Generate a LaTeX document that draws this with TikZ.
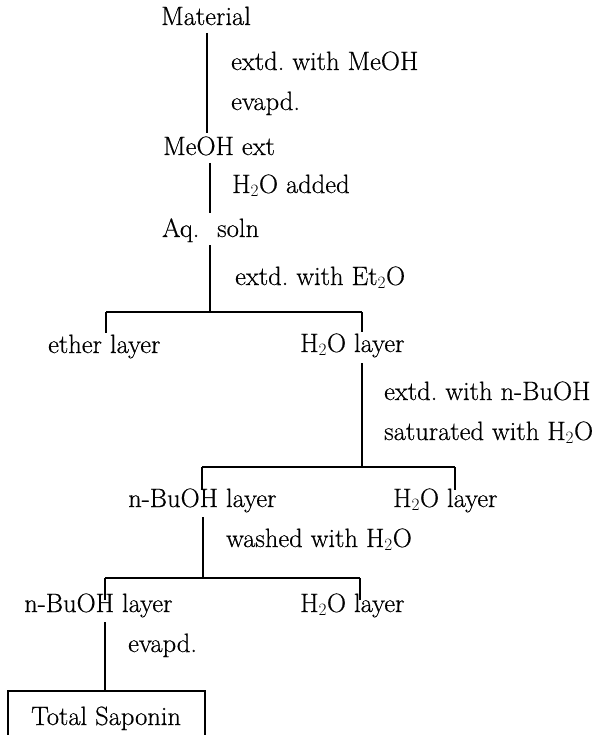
\documentclass[tikz,border=0pt]{standalone}
\usepackage{fontspec}
\newfontfamily\diagfont{Latin Modern Roman}[FakeBold=0.5]
\begin{document}
\begin{tikzpicture}[x=1pt,y=-1pt,
  lbl/.style={anchor=base west,inner sep=0pt,font=\diagfont\fontsize{26.5}{32}\selectfont},
  ln/.style={line width=1.1pt}]
\useasboundingbox (0,0) rectangle (601,735);
% texts
\node[lbl] (mat) at (161,25) {Material};
\node[lbl] (s1a) at (231,70) {extd.\ with MeOH};
\node[lbl] (s1b) at (231,110) {evapd.};
\node[lbl] (meoh) at (163,155) {MeOH ext};
\node[lbl] (s2) at (232,193) {H$_2$O added};
\node[lbl] (aq) at (162,237) {Aq.};
\node[lbl] (soln) at (217,237) {soln};
\node[lbl] (s3) at (235,285) {extd.\ with Et$_2$O};
\node[lbl] (ether) at (48,353) {ether layer};
\node[lbl] (w1) at (300,352) {H$_2$O layer};
\node[lbl] (s4a) at (384,400) {extd.\ with n-BuOH};
\node[lbl] (s4b) at (384,440) {saturated with H$_2$O};
\node[lbl] (bu1) at (128,507) {n-BuOH layer};
\node[lbl] (w2) at (393,507) {H$_2$O layer};
\node[lbl] (s5) at (226,547) {washed with H$_2$O};
\node[lbl] (bu2) at (24,612) {n-BuOH layer};
\node[lbl] (w3) at (300,612) {H$_2$O layer};
\node[lbl] (s6) at (128,652) {evapd.};
\node[lbl] (ts) at (31,725) {Total Saponin};
% junction coordinates
\coordinate (a1) at (207,33);  \coordinate (a2) at (207,133);
\coordinate (b1) at (210,163); \coordinate (b2) at (210,213);
\coordinate (c1) at (210,245); \coordinate (c2) at (210,312);
\coordinate (h1l) at (106,312); \coordinate (h1r) at (362,312);
\coordinate (t1) at (106,333); \coordinate (t2) at (362,332);
\coordinate (d1) at (362,363); \coordinate (d2) at (362,467);
\coordinate (h2l) at (202,467); \coordinate (h2r) at (455,467);
\coordinate (t3) at (202,490); \coordinate (t4) at (455,490);
\coordinate (e1) at (203,517); \coordinate (e2) at (203,578);
\coordinate (h3l) at (105,578); \coordinate (h3r) at (360,578);
\coordinate (t5) at (105,600); \coordinate (t6) at (360,600);
\coordinate (f1) at (105,622); \coordinate (f2) at (105,691);
\coordinate (bxl) at (8,691); \coordinate (bxr) at (205,691);
\coordinate (bxlb) at (8,735); \coordinate (bxrb) at (205,735);
% connectors
\draw[ln] (a1) -- (a2);
\draw[ln] (b1) -- (b2);
\draw[ln] (c1) -- (c2);
\draw[ln] (h1l) -- (h1r);
\draw[ln] (h1l) -- (t1);
\draw[ln] (h1r) -- (t2);
\draw[ln] (d1) -- (d2);
\draw[ln] (h2l) -- (h2r);
\draw[ln] (h2l) -- (t3);
\draw[ln] (h2r) -- (t4);
\draw[ln] (e1) -- (e2);
\draw[ln] (h3l) -- (h3r);
\draw[ln] (h3l) -- (t5);
\draw[ln] (h3r) -- (t6);
\draw[ln] (f1) -- (f2);
\draw[ln] (bxlb) -- (bxl) -- (bxr) -- (bxrb);
\end{tikzpicture}
\end{document}
